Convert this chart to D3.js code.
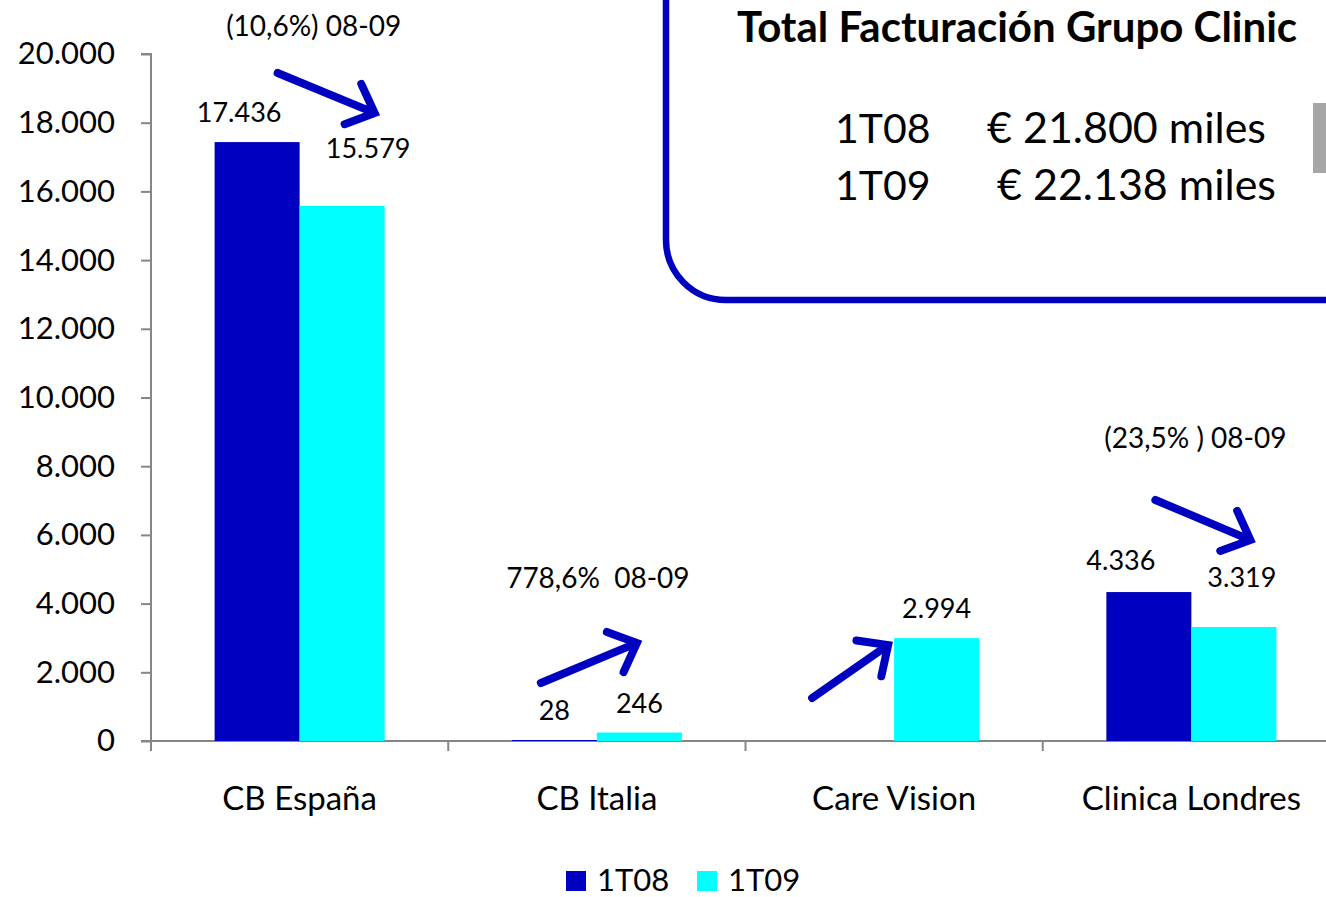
<!DOCTYPE html>
<html>
<head>
<meta charset="utf-8">
<script src="https://cdn.jsdelivr.net/npm/d3@7"></script>
<style>
  html, body { margin: 0; padding: 0; background: #fff; }
  svg { display: block; font-family: Lato, 'Open Sans', sans-serif; }
</style>
</head>
<body>
<div id="chart"></div>
<script>
const categories = ['CB España', 'CB Italia', 'Care Vision', 'Clinica Londres'];
const seriesNames = ['1T08', '1T09'];
const values1T08 = [17436, 28, null, 4336];
const values1T09 = [15579, 246, 2994, 3319];
const yTicks = [0, 2000, 4000, 6000, 8000, 10000, 12000, 14000, 16000, 18000, 20000];
const changeLabels = ['(10,6%) 08-09', '778,6%  08-09', null, '(23,5% ) 08-09'];
const totalTitle = 'Total Facturación Grupo Clinic';
const totalPeriods = ['1T08', '1T09'];
const totalAmounts = ['€ 21.800 miles', '€ 22.138 miles'];

const colors = { '1T08': '#0000C0', '1T09': '#00FFFF' };
const arrowColor = '#0000C0';
const axisColor = '#868686';

const width = 1326;
const height = 897;
const margin = { top: 54, left: 151, bottom: 156 };
const plotRight = 1340;
const baseY = height - margin.bottom; // 741

const locale = d3.formatLocale({ decimal: ',', thousands: '.', grouping: [3], currency: ['€', ''] });
const fmt = locale.format(',d');

const rows = categories.map((c, i) => ({ cat: c, values: [
  { s: '1T08', v: values1T08[i] },
  { s: '1T09', v: values1T09[i] },
] }));

const x0 = d3.scaleBand()
  .domain(categories)
  .range([margin.left, plotRight])
  .paddingInner(0.428)
  .paddingOuter(0.214);
const step = x0.step();
const x1 = d3.scaleBand().domain(seriesNames).range([0, x0.bandwidth()]);
const y = d3.scaleLinear().domain([0, 20000]).range([baseY, margin.top]);
const catCenter = c => x0(c) + x0.bandwidth() / 2;

const svg = d3.select('#chart').append('svg')
  .attr('width', width)
  .attr('height', height);

// total box (top right)
const box = svg.append('g');
box.append('rect')
  .attr('x', 666)
  .attr('y', -100)
  .attr('width', 800)
  .attr('height', 400)
  .attr('rx', 60)
  .attr('fill', '#fff')
  .attr('stroke', arrowColor)
  .attr('stroke-width', 6.5);
box.append('text')
  .attr('x', 737)
  .attr('y', 42)
  .attr('font-size', 42)
  .attr('font-weight', 'bold')
  .attr('fill', '#000')
  .text(totalTitle);
totalPeriods.forEach((p, i) => {
  box.append('text')
    .attr('x', 835).attr('y', 143 + i * 57)
    .attr('font-size', 41)
    .text(p);
  box.append('text')
    .attr('x', i === 0 ? 987 : 997).attr('y', 143 + i * 57)
    .attr('font-size', 43)
    .text(totalAmounts[i]);
});
box.append('rect')
  .attr('x', 1313).attr('y', 103)
  .attr('width', 20).attr('height', 70)
  .attr('fill', '#A6A6A6');

// axes
const yAxis = d3.axisLeft(y)
  .tickValues(yTicks)
  .tickFormat(fmt)
  .tickSize(10)
  .tickPadding(26);
svg.append('g')
  .attr('class', 'y axis')
  .attr('transform', `translate(${margin.left},0)`)
  .call(yAxis)
  .call(g => g.select('.domain').attr('stroke', axisColor).attr('stroke-width', 2)
    .attr('d', `M-10,${margin.top}H0V${baseY + 10}`))
  .call(g => g.selectAll('.tick line').attr('stroke', axisColor).attr('stroke-width', 2))
  .call(g => g.selectAll('.tick text').attr('font-size', 31).attr('fill', '#000')
    .attr('font-family', 'Lato, sans-serif'));

const xAxisG = svg.append('g').attr('class', 'x axis');
xAxisG.append('line')
  .attr('x1', margin.left - 10).attr('x2', width)
  .attr('y1', baseY).attr('y2', baseY)
  .attr('stroke', axisColor).attr('stroke-width', 2);
xAxisG.selectAll('.cat-tick')
  .data(categories)
  .enter()
  .append('line')
  .attr('class', 'cat-tick')
  .attr('x1', d => x0(d) - x0.paddingOuter() * step)
  .attr('x2', d => x0(d) - x0.paddingOuter() * step)
  .attr('y1', baseY).attr('y2', baseY + 10)
  .attr('stroke', axisColor).attr('stroke-width', 2);
xAxisG.selectAll('.cat-label')
  .data(categories)
  .enter()
  .append('text')
  .attr('class', 'cat-label')
  .attr('x', d => catCenter(d))
  .attr('y', baseY + 69)
  .attr('text-anchor', 'middle')
  .attr('font-size', 33)
  .text(d => d);

// bars
const groups = svg.append('g').selectAll('.group')
  .data(rows)
  .enter()
  .append('g')
  .attr('class', 'group')
  .attr('transform', d => `translate(${x0(d.cat)},0)`);

groups.selectAll('rect')
  .data(d => d.values.filter(e => e.v !== null))
  .enter()
  .append('rect')
  .attr('x', d => x1(d.s))
  .attr('y', d => y(d.v))
  .attr('width', x1.bandwidth())
  .attr('height', d => baseY - y(d.v))
  .attr('fill', d => colors[d.s]);

// value labels (manual nudges as in the original slide)
const labelNudge = {
  'CB España|1T08': [-18, 0],
  'CB España|1T09': [26, -28],
  'Clinica Londres|1T08': [-28, -2],
  'Clinica Londres|1T09': [8, -20],
};
groups.each(function (d) {
  d3.select(this).selectAll('.val')
    .data(d.values.filter(e => e.v !== null))
    .enter()
    .append('text')
    .attr('class', 'val')
    .attr('x', e => x1(e.s) + x1.bandwidth() / 2 + (labelNudge[`${d.cat}|${e.s}`] || [0, 0])[0])
    .attr('y', e => y(e.v) - 20 + (labelNudge[`${d.cat}|${e.s}`] || [0, 0])[1])
    .attr('text-anchor', 'middle')
    .attr('font-size', 27)
    .text(e => fmt(e.v));
});

// change annotations
const changePos = [[14, 20524], [1, 4454], null, [4, 8530]];
categories.forEach((c, i) => {
  if (!changeLabels[i]) return;
  svg.append('text')
    .attr('x', catCenter(c) + changePos[i][0])
    .attr('y', y(changePos[i][1]))
    .attr('text-anchor', 'middle')
    .attr('font-size', 28)
    .style('white-space', 'pre')
    .text(changeLabels[i]);
});

// arrows: [category, dx start, value start, dx tip, value tip]
const arrows = [
  ['CB España', -22, 19447, 75, 18282],
  ['CB Italia', -56, 1689, 40, 2853],
  ['Care Vision', -82, 1252, -6, 2795],
  ['Clinica Londres', -36, 7016, 59, 5852],
];
const arrowG = svg.append('g');
arrows.forEach(([c, dx0, v0, dx1, v1]) => {
  const xs = catCenter(c) + dx0;
  const ys = y(v0);
  const xt = catCenter(c) + dx1;
  const yt = y(v1);
  const ang = Math.atan2(yt - ys, xt - xs);
  const head = 32;
  const spread = Math.PI / 4.2;
  const a1 = [xt - head * Math.cos(ang - spread), yt - head * Math.sin(ang - spread)];
  const a2 = [xt - head * Math.cos(ang + spread), yt - head * Math.sin(ang + spread)];
  arrowG.append('path')
    .attr('d', `M${xs},${ys}L${xt - 3 * Math.cos(ang)},${yt - 3 * Math.sin(ang)}M${a1[0]},${a1[1]}L${xt},${yt}L${a2[0]},${a2[1]}`)
    .attr('fill', 'none')
    .attr('stroke', arrowColor)
    .attr('stroke-width', 8)
    .attr('stroke-linecap', 'round')
    .attr('stroke-linejoin', 'miter');
});

// legend
const legend = svg.append('g').attr('transform', 'translate(566,871)');
const legendItems = legend.selectAll('.item')
  .data(seriesNames)
  .enter()
  .append('g')
  .attr('class', 'item')
  .attr('transform', (d, i) => `translate(${i * 131},0)`);
legendItems.append('rect')
  .attr('width', 20).attr('height', 20)
  .attr('fill', d => colors[d]);
legendItems.append('text')
  .attr('x', 31).attr('y', 20)
  .attr('font-size', 31)
  .text(d => d);
</script>
</body>
</html>
